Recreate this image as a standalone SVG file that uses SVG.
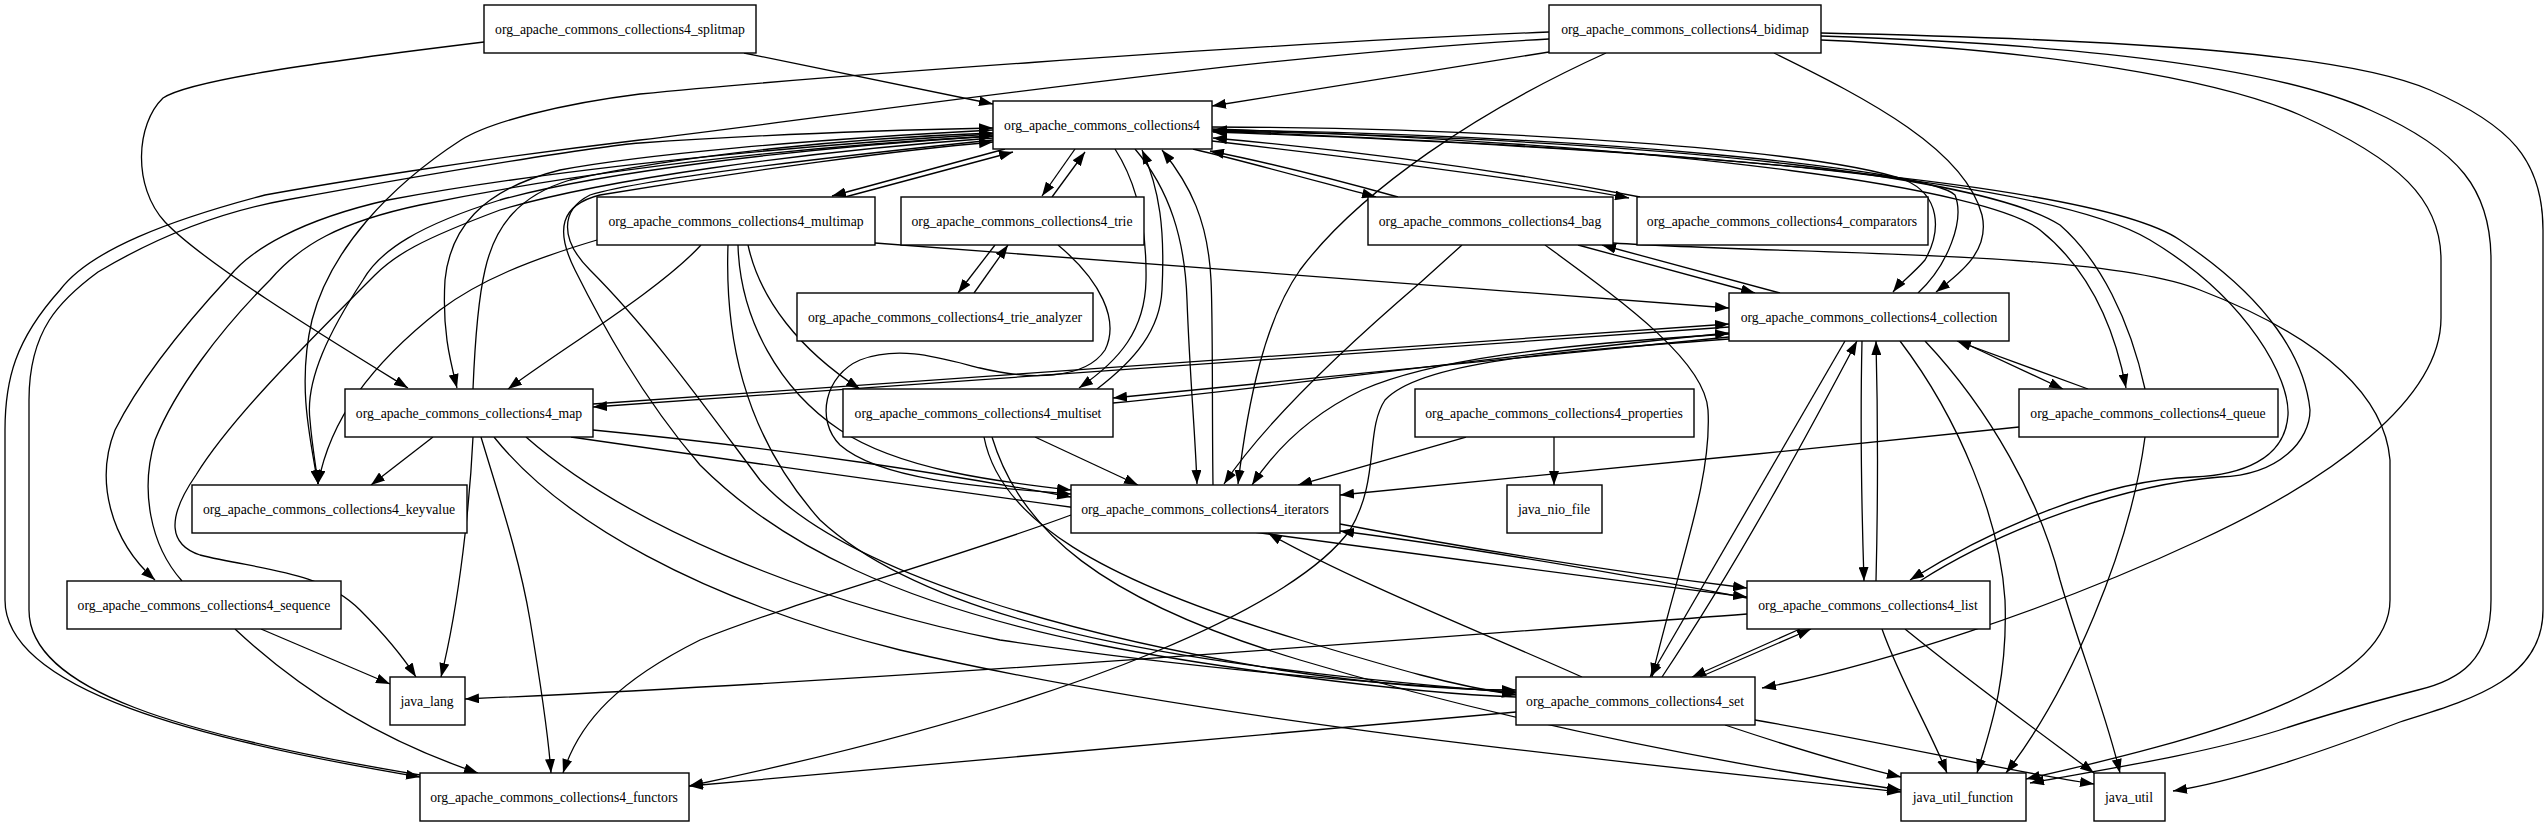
<svg xmlns="http://www.w3.org/2000/svg" width="2548" height="827" viewBox="0 0 2548 827">
<style>
.n rect{fill:#fff;stroke:#000;stroke-width:1.4}
.n text{font-family:"Liberation Serif","Times New Roman",serif;font-size:13.7px;text-anchor:middle;fill:#000}
.e path{fill:none;stroke:#000;stroke-width:1.3;marker-end:url(#a)}
</style>
<defs>
<marker id="a" markerWidth="14" markerHeight="10" refX="14" refY="5" orient="auto" markerUnits="userSpaceOnUse"><path d="M0,0 L14,5 L0,10 z" fill="#000"/></marker>
</defs>
<rect width="2548" height="827" fill="#fff"/>
<g id="edges" class="e">
<path d="M744,53 L993,104"/>
<path d="M484,42 C320,62 190,80 163,98 C136,124 132,186 165,222 C205,264 330,340 408,388"/>
<path d="M1549,52 L1212,106"/>
<path d="M1549,32 C1250,44 780,80 640,94 C560,104 490,122 461,140 C390,186 330,250 312,320 C298,380 308,430 318,484"/>
<path d="M1549,39 C1250,55 850,115 640,140 C470,160 320,185 265,195 C170,220 90,250 60,290 C15,340 5,380 5,430 L5,600 C5,690 200,740 420,777"/>
<path d="M420,775 C180,735 29,690 29,610 L29,400 C29,330 60,300 98,272 C160,235 220,212 286,200 C450,170 600,146 640,143 C780,133 900,130 993,128"/>
<path d="M1606,53 C1480,110 1360,190 1300,270 C1265,320 1248,400 1238,484"/>
<path d="M1462,245 L1421,282 C1330,360 1260,430 1224,484"/>
<path d="M1774,53 C1870,100 1965,150 1982,215 C1990,250 1962,272 1936,292"/>
<path d="M1821,40 C2050,50 2220,80 2300,115 C2400,160 2441,200 2441,260 L2441,318 C2441,400 2330,480 2200,540 C2050,610 1880,665 1762,688"/>
<path d="M1821,36 C2100,45 2280,70 2370,110 C2460,150 2491,190 2491,260 L2491,600 C2491,660 2460,680 2418,690 C2360,705 2310,720 2280,730 C2200,755 2100,770 2030,783"/>
<path d="M1821,33 C2150,40 2350,55 2430,90 C2510,125 2543,160 2543,230 L2543,610 C2543,680 2470,700 2400,722 C2300,760 2230,782 2173,791"/>
<path d="M1005,149 L832,196"/>
<path d="M845,197 L1013,152"/>
<path d="M1075,149 L1042,196"/>
<path d="M1052,197 L1085,152"/>
<path d="M1193,149 C1260,165 1330,185 1376,197"/>
<path d="M1398,197 C1330,178 1270,163 1210,151"/>
<path d="M1212,141 C1400,163 1550,183 1629,198"/>
<path d="M1640,197 C1500,170 1350,150 1213,138"/>
<path d="M1212,127 C1500,128 1820,150 1905,180 C1940,195 1942,230 1925,260 C1912,275 1900,283 1893,292"/>
<path d="M1918,293 C1948,265 1965,220 1955,195 C1930,170 1600,135 1213,130"/>
<path d="M1212,129 C1700,145 1990,190 2040,230 C2090,270 2115,330 2126,388"/>
<path d="M2145,389 C2130,320 2100,260 2060,225 C1990,180 1700,140 1213,131"/>
<path d="M1212,131 C1700,150 2050,180 2150,240 C2250,300 2290,380 2288,415 C2285,460 2240,475 2194,477 C2100,480 1990,530 1910,580"/>
<path d="M1920,581 C2000,530 2120,485 2220,477 C2280,475 2310,440 2310,410 C2305,360 2270,300 2180,240 C2100,185 1700,150 1213,132"/>
<path d="M1115,149 C1135,180 1147,220 1146,280 C1145,330 1120,360 1079,388"/>
<path d="M1097,389 C1135,360 1160,330 1162,290 C1165,230 1160,190 1142,150"/>
<path d="M1135,149 C1170,190 1185,240 1187,300 C1190,380 1195,430 1197,484"/>
<path d="M1213,485 C1212,420 1213,320 1211,280 C1208,220 1190,185 1162,150"/>
<path d="M993,130 C800,140 640,155 560,170 C480,190 450,230 445,280 C442,330 450,360 457,388"/>
<path d="M473,389 C475,340 478,300 485,270 C495,225 520,195 570,180 C680,155 850,138 993,133"/>
<path d="M993,134 C800,145 560,168 388,200 C300,220 250,250 229,277 C180,330 140,380 115,430 C95,480 110,540 155,580"/>
<path d="M182,581 C150,545 140,490 155,440 C175,390 220,330 270,280 C300,245 340,222 420,205 C600,168 800,147 993,136"/>
<path d="M993,136 C800,148 600,172 500,200 C420,225 380,250 363,280 C330,330 305,380 310,420 C312,445 315,460 318,484"/>
<path d="M993,138 C800,152 600,180 500,210 C420,240 395,255 375,275 C300,350 230,420 196,475 C165,520 170,545 200,555 C260,570 320,570 360,610 C390,640 405,660 416,677"/>
<path d="M993,140 C800,160 640,180 590,195 C560,210 560,240 590,270 C650,330 700,400 760,480 C850,580 1100,640 1280,670 C1380,685 1450,690 1516,690"/>
<path d="M1516,697 C1400,693 1200,665 1100,645 C900,605 780,545 700,465 C640,395 600,320 575,270 C555,230 560,205 600,195 C750,170 900,150 993,142"/>
<path d="M701,245 C660,290 560,350 508,389"/>
<path d="M597,240 C530,260 480,280 440,310 C370,365 330,420 318,484"/>
<path d="M748,245 C760,300 800,350 860,389"/>
<path d="M738,245 C740,320 780,390 840,430 C900,470 1000,482 1071,490"/>
<path d="M728,245 C725,330 740,430 820,520 C950,640 1250,670 1516,693"/>
<path d="M875,243 C1100,260 1400,285 1729,308"/>
<path d="M995,245 L958,293"/>
<path d="M974,293 L1008,245"/>
<path d="M1058,245 C1100,280 1120,320 1105,350 C1085,380 1030,380 980,368 C940,358 900,345 860,360 C825,375 815,420 840,445 C880,480 980,487 1071,494"/>
<path d="M433,437 L371,485"/>
<path d="M473,437 C470,500 460,600 441,677"/>
<path d="M481,437 C500,500 520,560 530,620 C540,680 548,730 551,773"/>
<path d="M494,437 C560,520 700,600 900,650 C1200,720 1600,760 1901,792"/>
<path d="M526,437 C620,520 800,600 1000,640 C1200,670 1400,685 1516,692"/>
<path d="M571,437 C800,470 1300,540 1747,597"/>
<path d="M593,430 C800,450 950,475 1071,497"/>
<path d="M593,404 L1729,324"/>
<path d="M1729,327 L593,407"/>
<path d="M1113,403 C1300,385 1500,355 1729,333"/>
<path d="M1729,337 C1500,358 1300,380 1113,398"/>
<path d="M1729,334 C1550,345 1430,360 1362,390 C1310,415 1275,450 1252,485"/>
<path d="M1729,339 C1550,352 1420,362 1385,400 C1365,430 1380,480 1350,530 C1300,600 1100,700 689,786"/>
<path d="M1845,341 C1800,420 1730,540 1650,677"/>
<path d="M1662,677 C1740,560 1810,430 1857,341"/>
<path d="M1862,341 C1860,430 1862,520 1864,581"/>
<path d="M1876,581 C1878,500 1878,420 1876,341"/>
<path d="M1960,341 L2063,389"/>
<path d="M2088,389 L1957,341"/>
<path d="M1900,341 C1960,420 2000,520 2005,600 C2008,680 1990,730 1977,773"/>
<path d="M1925,341 C1990,410 2040,500 2060,580 C2080,650 2105,710 2120,773"/>
<path d="M1747,598 C1600,570 1450,545 1340,531"/>
<path d="M1340,524 C1450,545 1600,570 1747,588"/>
<path d="M1747,614 C1400,640 900,680 465,699"/>
<path d="M1800,629 L1692,677"/>
<path d="M1700,677 L1811,629"/>
<path d="M1882,629 C1900,680 1930,730 1947,773"/>
<path d="M1905,629 C1980,690 2050,740 2094,773"/>
<path d="M2019,427 C1800,450 1500,480 1340,495"/>
<path d="M2145,437 C2130,550 2070,690 2006,773"/>
<path d="M1466,437 L1298,485"/>
<path d="M1554,437 L1554,485"/>
<path d="M261,629 L390,684"/>
<path d="M235,629 C300,690 380,740 478,773"/>
<path d="M1071,515 C950,560 800,600 700,640 C620,680 580,720 563,773"/>
<path d="M1582,677 C1500,640 1350,580 1268,533"/>
<path d="M1516,712 C1300,730 1000,760 689,786"/>
<path d="M1725,725 C1800,750 1850,765 1901,777"/>
<path d="M1755,720 C1900,745 2000,770 2094,784"/>
<path d="M1578,245 L1755,293"/>
<path d="M1780,293 L1602,245"/>
<path d="M1545,245 C1620,300 1705,360 1708,410 C1712,480 1680,560 1652,677"/>
<path d="M1613,243 C1800,255 2100,250 2200,290 C2330,340 2385,400 2390,460 L2390,600 C2390,690 2200,740 2026,779"/>
<path d="M1035,437 L1138,485"/>
<path d="M984,437 C1000,520 1100,580 1300,640 C1400,670 1450,685 1516,695"/>
<path d="M992,437 C1020,530 1100,600 1300,660 C1500,720 1700,760 1901,790"/>
</g>
<g id="splitmap" class="n"><rect x="484" y="5" width="272" height="48"/><text x="620" y="34">org_apache_commons_collections4_splitmap</text></g>
<g id="bidimap" class="n"><rect x="1549" y="5" width="272" height="48"/><text x="1685" y="34">org_apache_commons_collections4_bidimap</text></g>
<g id="core" class="n"><rect x="993" y="101" width="219" height="48"/><text x="1102" y="130">org_apache_commons_collections4</text></g>
<g id="multimap" class="n"><rect x="597" y="197" width="278" height="48"/><text x="736" y="226">org_apache_commons_collections4_multimap</text></g>
<g id="trie" class="n"><rect x="901" y="197" width="243" height="48"/><text x="1022" y="226">org_apache_commons_collections4_trie</text></g>
<g id="bag" class="n"><rect x="1368" y="197" width="245" height="48"/><text x="1490" y="226">org_apache_commons_collections4_bag</text></g>
<g id="comparators" class="n"><rect x="1637" y="197" width="291" height="48"/><text x="1782" y="226">org_apache_commons_collections4_comparators</text></g>
<g id="trie_analyzer" class="n"><rect x="797" y="293" width="296" height="48"/><text x="945" y="322">org_apache_commons_collections4_trie_analyzer</text></g>
<g id="collection" class="n"><rect x="1729" y="293" width="280" height="48"/><text x="1869" y="322">org_apache_commons_collections4_collection</text></g>
<g id="map" class="n"><rect x="345" y="389" width="248" height="48"/><text x="469" y="418">org_apache_commons_collections4_map</text></g>
<g id="multiset" class="n"><rect x="843" y="389" width="270" height="48"/><text x="978" y="418">org_apache_commons_collections4_multiset</text></g>
<g id="properties" class="n"><rect x="1415" y="389" width="279" height="48"/><text x="1554" y="418">org_apache_commons_collections4_properties</text></g>
<g id="queue" class="n"><rect x="2019" y="389" width="259" height="48"/><text x="2148" y="418">org_apache_commons_collections4_queue</text></g>
<g id="keyvalue" class="n"><rect x="192" y="485" width="275" height="48"/><text x="329" y="514">org_apache_commons_collections4_keyvalue</text></g>
<g id="iterators" class="n"><rect x="1071" y="485" width="269" height="48"/><text x="1205" y="514">org_apache_commons_collections4_iterators</text></g>
<g id="java_nio_file" class="n"><rect x="1507" y="485" width="95" height="48"/><text x="1554" y="514">java_nio_file</text></g>
<g id="sequence" class="n"><rect x="67" y="581" width="274" height="48"/><text x="204" y="610">org_apache_commons_collections4_sequence</text></g>
<g id="list" class="n"><rect x="1747" y="581" width="243" height="48"/><text x="1868" y="610">org_apache_commons_collections4_list</text></g>
<g id="java_lang" class="n"><rect x="390" y="677" width="75" height="48"/><text x="427" y="706">java_lang</text></g>
<g id="set" class="n"><rect x="1516" y="677" width="239" height="48"/><text x="1635" y="706">org_apache_commons_collections4_set</text></g>
<g id="functors" class="n"><rect x="420" y="773" width="269" height="48"/><text x="554" y="802">org_apache_commons_collections4_functors</text></g>
<g id="java_util_function" class="n"><rect x="1901" y="773" width="125" height="48"/><text x="1963" y="802">java_util_function</text></g>
<g id="java_util" class="n"><rect x="2094" y="773" width="71" height="48"/><text x="2129" y="802">java_util</text></g>
</svg>
